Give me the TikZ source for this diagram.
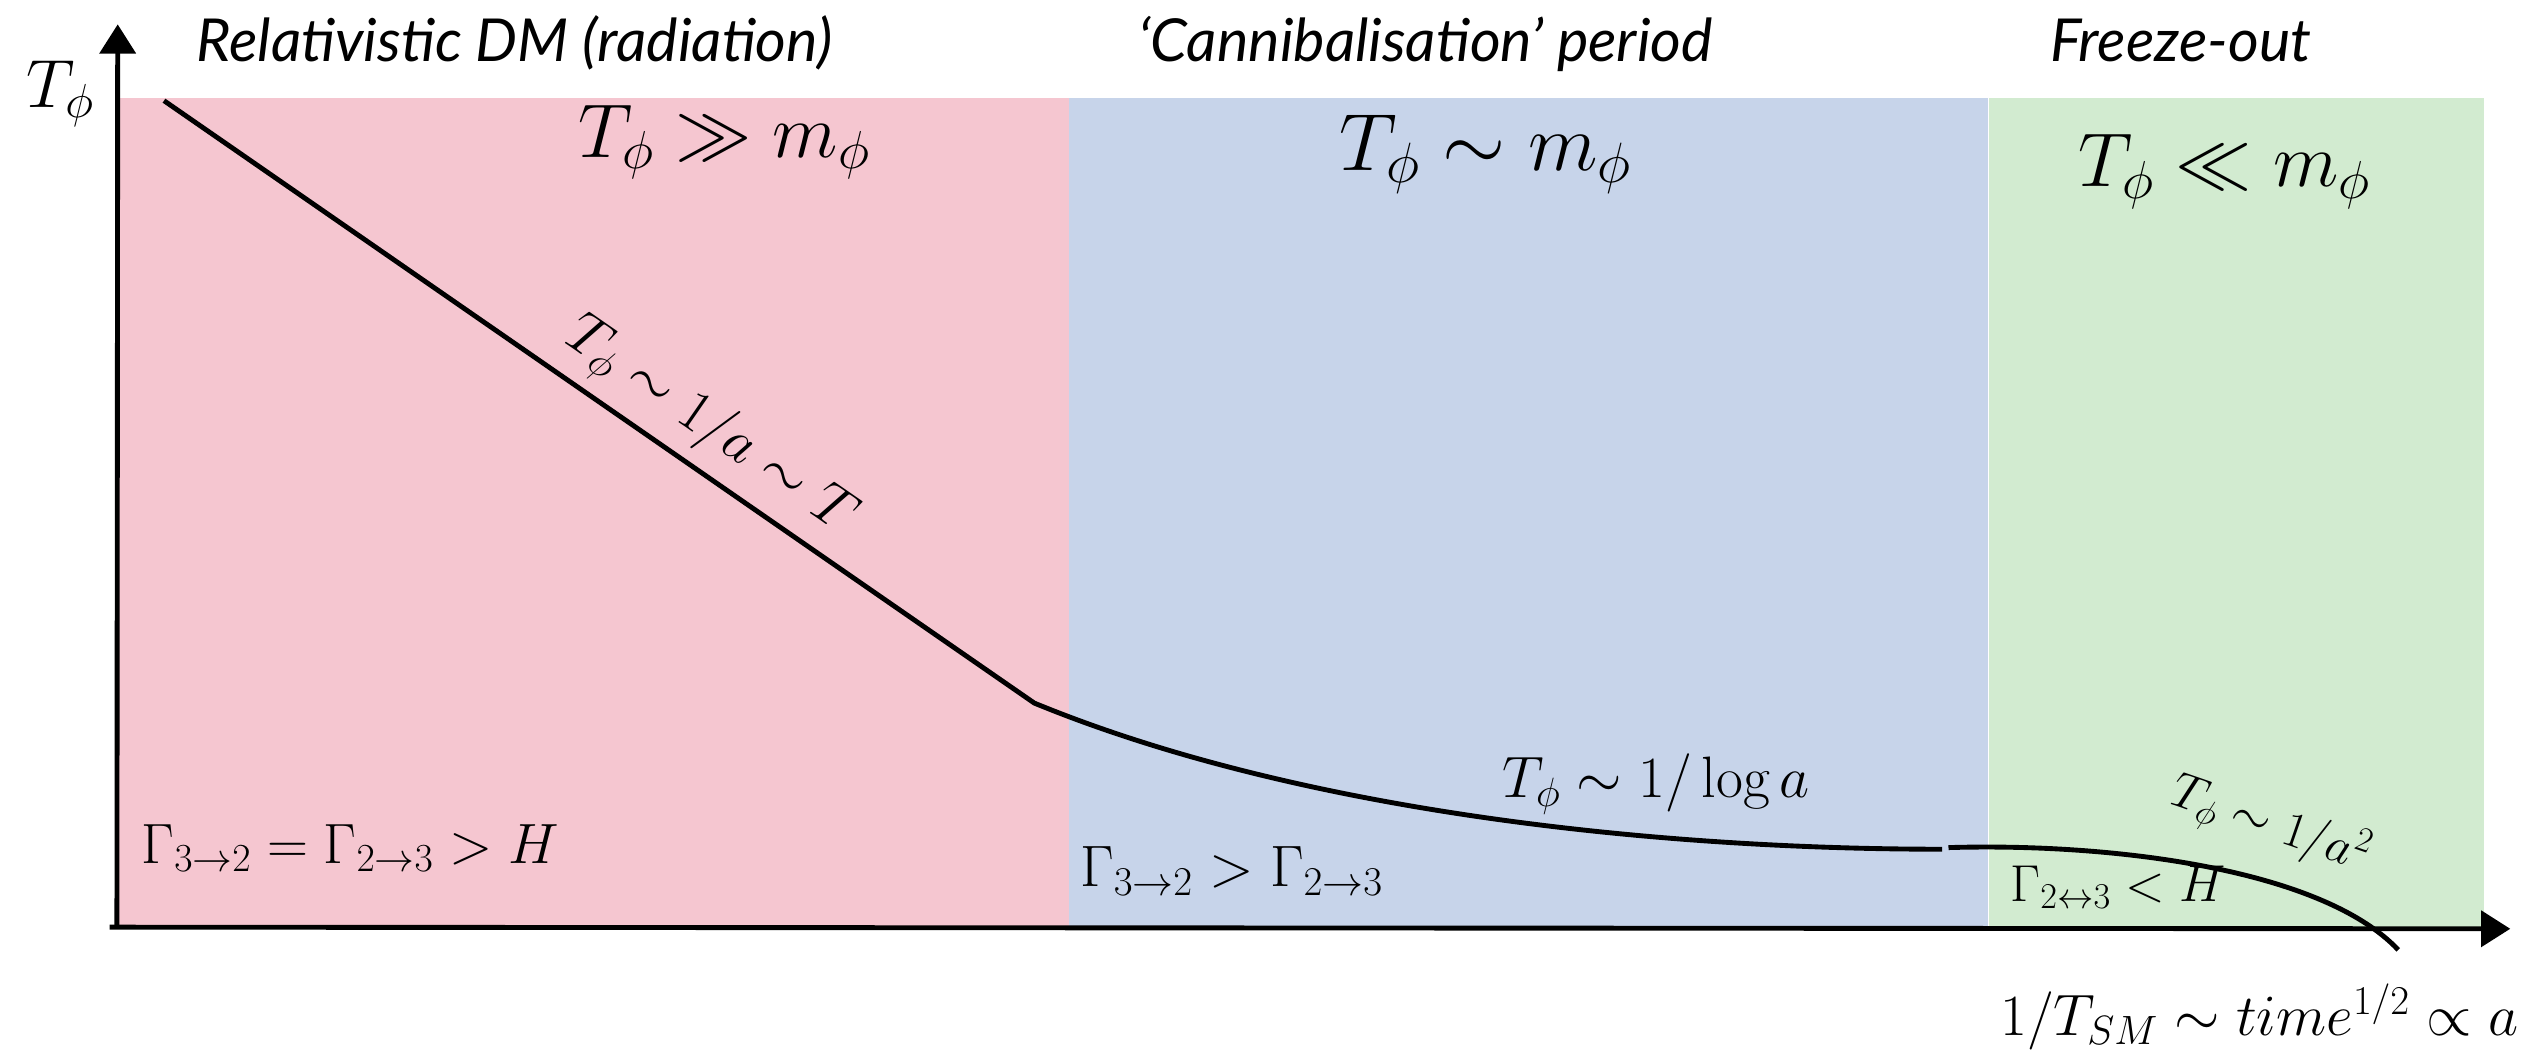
\RequirePackage{fix-cm}
\documentclass[tikz,border=0pt]{standalone}
\usepackage{amsmath}
\usepackage{fontspec}
\newfontfamily\titlefont{Lato}
\usepackage{xcolor}
\usepackage{tikz}
\usetikzlibrary{positioning,arrows.meta}
\definecolor{relpink}{RGB}{245,198,208}
\definecolor{canblue}{RGB}{199,212,234}
\definecolor{frzgreen}{RGB}{210,235,208}

\begin{document}
\begin{tikzpicture}[x=1pt, y=-1pt, every node/.style={align=center, inner sep=0pt},
  region/.style={anchor=north west, inner sep=0pt, minimum height=511pt},
  ttl/.style={font=\titlefont\itshape\fontsize{36.5}{40}\selectfont, anchor=base},
  big/.style={font=\fontsize{47}{52}\selectfont, anchor=base},
  lbl/.style={font=\fontsize{36}{40}\selectfont},
  rate/.style={font=\fontsize{35}{38}\selectfont, anchor=base west},
  axis/.style={line width=3pt, -{Triangle[length=18pt, width=22pt]}},
  curve/.style={line width=3pt}]
\useasboundingbox (0,0) rectangle (1568,649);
\node[region, fill=relpink, minimum width=586pt] (rel) at (72,60) {};
\node[region, fill=canblue, minimum width=566pt, right=0pt of rel] (can) {};
\node[region, fill=frzgreen, minimum width=305pt, right=0pt of can] (frz) {};
\node[ttl] (reltitle) at (317,38) {Relativistic DM (radiation)};
\node[ttl] (cantitle) at (878,38) {‘Cannibalisation’ period};
\node[ttl] (frztitle) at (1343,38) {Freeze-out};
\node[big] (hot) at (446,97) {$T_\phi \gg m_\phi$};
\node[big, font=\fontsize{50}{54}\selectfont] (warm) at (915,105) {$T_\phi \sim m_\phi$};
\node[big] (cold) at (1370,115) {$T_\phi \ll m_\phi$};
\node[lbl, anchor=base west, font=\fontsize{42}{46}\selectfont] (ylab) at (16,66) {$T_\phi$};
\coordinate (o) at (71.5,571);
\coordinate (ytip) at (72.5,15);
\coordinate (xtip) at (1546,572);
\draw[axis] ([xshift=0.5pt]o) -- (ytip);
\draw[axis] ([xshift=-4pt]o) -- (xtip);
\coordinate (c0) at (101,62);
\coordinate (c1) at (637,433);
\coordinate (c2) at (1196,523);
\coordinate (c3) at (1200,522);
\coordinate (c4) at (1477,585);
\draw[curve] (c0) -- (c1) .. controls (800,500) and (1020,523) .. (c2);
\draw[curve] (c3) .. controls (1300,519) and (1430,535) .. (c4);
\node[lbl, rotate=-34.7] (relslope) at (437,263) {$T_\phi \sim 1/a \sim T$};
\node[lbl, anchor=base] (canslope) at (1020,491) {$T_\phi \sim 1/\log a$};
\node[lbl, rotate=-19, font=\fontsize{31}{34}\selectfont] (frzslope) at (1398,508) {$T_\phi \sim 1/a^2$};
\node[rate] (relrate) at (87,531.6) {$\Gamma_{3\to2} = \Gamma_{2\to3} > H$};
\node[rate, font=\fontsize{36}{40}\selectfont] (canrate) at (665,546) {$\Gamma_{3\to2} > \Gamma_{2\to3}$};
\node[rate, font=\fontsize{32}{35}\selectfont] (frzrate) at (1238,555) {$\Gamma_{2\leftrightarrow3} < H$};
\node[lbl, anchor=base east] (xlab) at (1551,638) {$1/T_{SM} \sim time^{1/2} \propto a$};
\end{tikzpicture}
\end{document}
